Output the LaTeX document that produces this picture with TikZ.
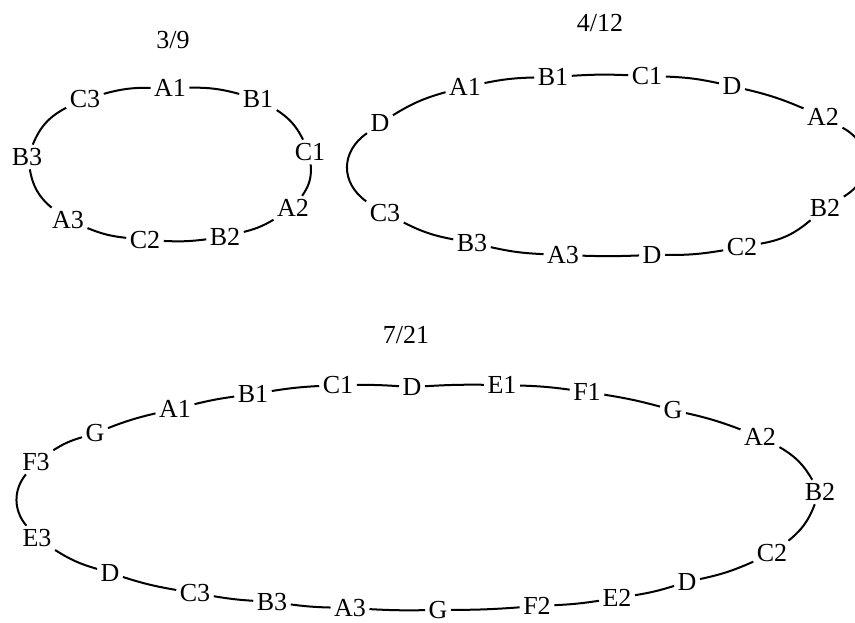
\documentclass[tikz,border=0pt]{standalone}
\usepackage{fontspec}
\setmainfont{Liberation Serif}
\usepackage{tikz}

\begin{document}
\begin{tikzpicture}[
    x=0.75pt, y=0.75pt,
    vertex/.style={inner sep=2.5pt, font=\fontsize{19.5}{22}\selectfont},
    heading/.style={inner sep=0pt, font=\fontsize{19.5}{22}\selectfont},
    link/.style={line width=1.5pt}
]
    \useasboundingbox (0,0) rectangle (855,-623);

    % 3/9
    \node[heading] (t9) at (173,-40) {3/9};
    \node[vertex] (sa1) at (170,-88) {A1};
    \node[vertex] (sb1) at (258,-99) {B1};
    \node[vertex] (sc1) at (310,-152) {C1};
    \node[vertex] (sa2) at (293,-208) {A2};
    \node[vertex] (sb2) at (225,-237) {B2};
    \node[vertex] (sc2) at (145,-240) {C2};
    \node[vertex] (sa3) at (68,-220) {A3};
    \node[vertex] (sb3) at (27,-157) {B3};
    \node[vertex] (sc3) at (85,-99) {C3};

    \draw[link] (sa1) to[bend left=8] (sb1);
    \draw[link] (sb1) to[bend left=15] (sc1);
    \draw[link] (sc1) to[bend left=20] (sa2);
    \draw[link] (sa2) to[bend left=8] (sb2);
    \draw[link] (sb2) to[bend left=5] (sc2);
    \draw[link] (sc2) to[bend left=8] (sa3);
    \draw[link] (sa3) to[bend left=20] (sb3);
    \draw[link] (sb3) to[bend left=20] (sc3);
    \draw[link] (sc3) to[bend left=8] (sa1);

    % 4/12
    \node[heading] (t12) at (600,-23) {4/12};
    \node[vertex] (ma1) at (465,-87) {A1};
    \node[vertex] (mb1) at (553,-77) {B1};
    \node[vertex] (mc1) at (647,-76) {C1};
    \node[vertex] (md1) at (732,-86) {D};
    \node[vertex] (ma2) at (823,-117) {A2};
    \node[vertex] (mb2) at (825,-208) {B2};
    \node[vertex] (mc2) at (742,-247) {C2};
    \node[vertex] (md2) at (652,-255) {D};
    \node[vertex] (ma3) at (563,-255) {A3};
    \node[vertex] (mb3) at (472,-243) {B3};
    \node[vertex] (mc3) at (385,-213) {C3};
    \node[vertex] (md3) at (380,-123) {D};

    \draw[link] (ma1) to[bend left=5] (mb1);
    \draw[link] (mb1) to[bend left=3] (mc1);
    \draw[link] (mc1) to[bend left=5] (md1);
    \draw[link] (md1) to[bend left=5] (ma2);
    \draw[link] (ma2) to[bend left=60, looseness=1.3] (mb2);
    \draw[link] (mb2) to[bend left=15] (mc2);
    \draw[link] (mc2) to[bend left=5] (md2);
    \draw[link] (md2) to[bend left=2] (ma3);
    \draw[link] (ma3) to[bend left=5] (mb3);
    \draw[link] (mb3) to[bend left=8] (mc3);
    \draw[link] (mc3) to[bend left=55, looseness=1.2] (md3);
    \draw[link] (md3) to[bend left=8] (ma1);

    % 7/21
    \node[heading] (t21) at (406,-335) {7/21};
    \node[vertex] (la1) at (175,-409) {A1};
    \node[vertex] (lb1) at (253,-394) {B1};
    \node[vertex] (lc1) at (338,-385) {C1};
    \node[vertex] (ld1) at (412,-387) {D};
    \node[vertex] (le1) at (502,-385) {E1};
    \node[vertex] (lf1) at (587,-392) {F1};
    \node[vertex] (lg1) at (673,-410) {G};
    \node[vertex] (la2) at (760,-437) {A2};
    \node[vertex] (lb2) at (820,-492) {B2};
    \node[vertex] (lc2) at (772,-553) {C2};
    \node[vertex] (ld2) at (687,-582) {D};
    \node[vertex] (le2) at (617,-598) {E2};
    \node[vertex] (lf2) at (537,-606) {F2};
    \node[vertex] (lg2) at (438,-610) {G};
    \node[vertex] (la3) at (350,-608) {A3};
    \node[vertex] (lb3) at (272,-602) {B3};
    \node[vertex] (lc3) at (195,-593) {C3};
    \node[vertex] (ld3) at (110,-573) {D};
    \node[vertex] (le3) at (37,-538) {E3};
    \node[vertex] (lf3) at (36,-462) {F3};
    \node[vertex] (lg3) at (95,-433) {G};

    \draw[link] (la1) to[bend left=3] (lb1);
    \draw[link] (lb1) to[bend left=3] (lc1);
    \draw[link] (lc1) to[bend left=2] (ld1);
    \draw[link] (ld1) to[bend left=2] (le1);
    \draw[link] (le1) to[bend left=3] (lf1);
    \draw[link] (lf1) to[bend left=3] (lg1);
    \draw[link] (lg1) to[bend left=4] (la2);
    \draw[link] (la2) to[bend left=15] (lb2);
    \draw[link] (lb2) to[bend left=15] (lc2);
    \draw[link] (lc2) to[bend left=6] (ld2);
    \draw[link] (ld2) to[bend left=4] (le2);
    \draw[link] (le2) to[bend left=3] (lf2);
    \draw[link] (lf2) to[bend left=2] (lg2);
    \draw[link] (lg2) to[bend left=2] (la3);
    \draw[link] (la3) to[bend left=3] (lb3);
    \draw[link] (lb3) to[bend left=3] (lc3);
    \draw[link] (lc3) to[bend left=4] (ld3);
    \draw[link] (ld3) to[bend left=8] (le3);
    \draw[link] (le3) to[bend left=40] (lf3);
    \draw[link] (lf3) to[bend left=8] (lg3);
    \draw[link] (lg3) to[bend left=4] (la1);
\end{tikzpicture}
\end{document}
